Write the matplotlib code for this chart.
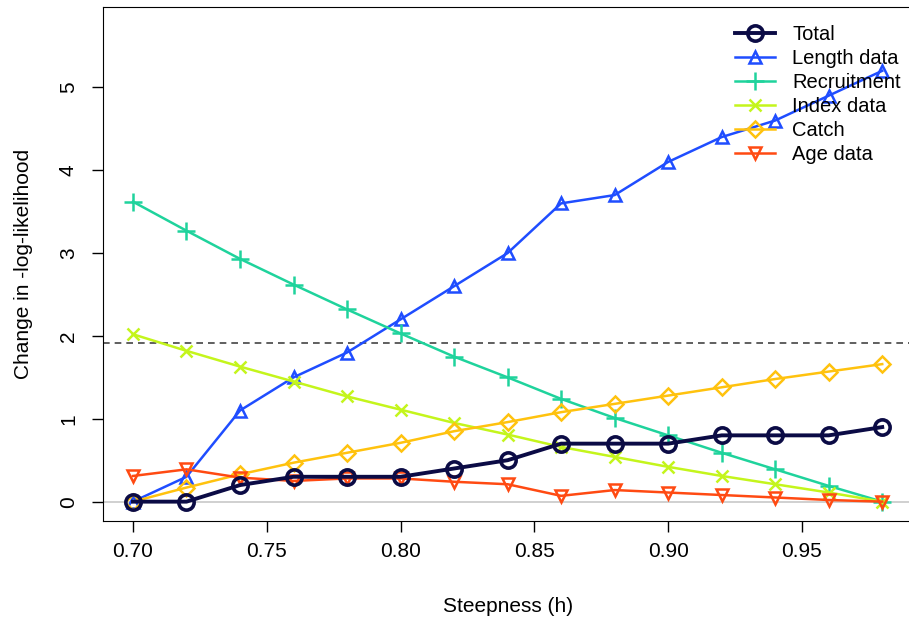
import matplotlib.pyplot as plt
import numpy as np

plt.rcParams['font.family'] = ['Liberation Sans', 'DejaVu Sans']

# steepness values and change in -log-likelihood per component
steepness = [0.70, 0.72, 0.74, 0.76, 0.78, 0.80, 0.82, 0.84, 0.86, 0.88, 0.90, 0.92, 0.94, 0.96, 0.98]
total = [0.0, 0.0, 0.2, 0.3, 0.3, 0.3, 0.4, 0.5, 0.7, 0.7, 0.7, 0.8, 0.8, 0.8, 0.9]
length_data = [0.0, 0.3, 1.1, 1.5, 1.8, 2.2, 2.6, 3.0, 3.6, 3.7, 4.1, 4.4, 4.6, 4.9, 5.2]
recruitment = [3.62, 3.27, 2.93, 2.62, 2.32, 2.03, 1.75, 1.50, 1.24, 1.01, 0.80, 0.59, 0.39, 0.19, 0.0]
index_data = [2.02, 1.82, 1.63, 1.45, 1.27, 1.11, 0.95, 0.81, 0.66, 0.54, 0.42, 0.31, 0.21, 0.11, 0.0]
catch = [0.0, 0.17, 0.33, 0.47, 0.59, 0.71, 0.85, 0.96, 1.08, 1.18, 1.28, 1.38, 1.48, 1.57, 1.66]
age_data = [0.31, 0.39, 0.29, 0.25, 0.28, 0.28, 0.24, 0.21, 0.07, 0.14, 0.11, 0.08, 0.05, 0.02, 0.0]
threshold = 1.92

fig = plt.figure(figsize=(9.09, 6.2), dpi=100)
ax = fig.add_axes([103/909, 99.3/620, 810/909, 513.7/620])

ax.axhline(0, color='#c8c8c8', lw=1.2, zorder=1)
ax.axhline(threshold, color='#444444', lw=1.2, ls=(0, (4, 3)), zorder=1)

ax.plot(steepness, length_data, color='#1f4dff', lw=1.8, marker='^', ms=9,
        mfc='none', mew=1.8, label='Length data', zorder=3)
ax.plot(steepness, recruitment, color='#1fd39c', lw=1.8, marker='+', ms=13,
        mew=1.8, label='Recruitment', zorder=3)
ax.plot(steepness, index_data, color='#c4f51c', lw=1.8, marker='x', ms=9,
        mew=1.8, label='Index data', zorder=3)
ax.plot(steepness, catch, color='#ffc20e', lw=1.8, marker='D', ms=8,
        mfc='none', mew=1.8, label='Catch', zorder=3)
ax.plot(steepness, age_data, color='#ff4a12', lw=1.8, marker='v', ms=9,
        mfc='none', mew=1.8, label='Age data', zorder=3)
ax.plot(steepness, total, color='#0b0b45', lw=2.8, marker='o', ms=11,
        mfc='none', mew=2.6, label='Total', zorder=4)

ax.set_xlim(0.6888, 0.9915)
ax.set_ylim(-0.23, 5.97)
ax.set_xticks([0.70, 0.75, 0.80, 0.85, 0.90, 0.95])
ax.set_xticklabels(['0.70', '0.75', '0.80', '0.85', '0.90', '0.95'])
ax.set_yticks([0, 1, 2, 3, 4, 5])
ax.tick_params(axis='both', length=8, width=1, labelsize=15)
ax.tick_params(axis='x', pad=7)
ax.tick_params(axis='y', pad=10)
for lbl in ax.get_yticklabels():
    lbl.set_rotation(90)
    lbl.set_va('center')
ax.set_xlabel('Steepness (h)', fontsize=15, labelpad=26)
ax.set_ylabel('Change in -log-likelihood', fontsize=15, labelpad=19)

handles, labels = ax.get_legend_handles_labels()
order = [5, 0, 1, 2, 3, 4]
ax.legend([handles[i] for i in order], [labels[i] for i in order],
          loc='upper left', bbox_to_anchor=(735/909, 1 - 25/620),
          bbox_transform=fig.transFigure, frameon=False, fontsize=14.5,
          handlelength=2.0, handletextpad=0.85, labelspacing=0.25,
          borderpad=0, borderaxespad=0)

fig.savefig('out.png', dpi=100)
